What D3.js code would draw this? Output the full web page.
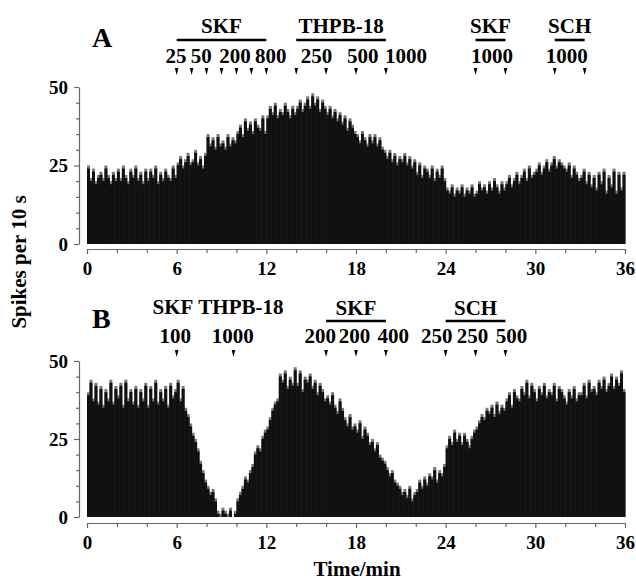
<!DOCTYPE html>
<html>
<head>
<meta charset="utf-8">
<script src="https://cdn.jsdelivr.net/npm/d3@7"></script>
<style>
  body { margin: 0; background: #fff; }
  text { font-family: "Liberation Serif", "Times New Roman", serif; font-weight: bold; fill: #000; }
</style>
</head>
<body>
<script>
// spikes per 10 s bin, 6 bins per minute, 36 min
var spikesA = [
  25,21,24,20,22,23, 21,25,22,20,23,21, 24,21,25,22,20,24, 22,25,21,23,20,24,
  21,24,22,25,20,23, 21,24,22,21,25,22, 26,28,25,27,29,26, 27,30,26,28,25,29,
  35,32,34,31,35,32, 33,31,35,32,34,33, 36,38,35,40,37,39, 36,40,38,37,41,36,
  41,44,42,45,41,43, 42,45,43,41,44,42, 44,46,43,45,47,44, 48,45,47,43,46,44,
  42,44,41,43,40,42, 39,41,37,40,38,36, 35,33,36,34,32,35, 33,35,32,34,31,30,
  28,30,27,29,26,28, 27,29,26,28,25,27, 23,26,22,25,24,22, 25,21,24,22,25,21,
  18,17,19,16,18,17, 19,16,18,17,19,16, 17,20,18,19,17,20, 18,21,19,17,20,18,
  20,22,19,21,23,20, 22,24,21,25,22,23, 24,26,23,25,27,24, 26,28,25,27,26,25,
  24,26,22,25,23,21, 22,24,20,23,19,22, 18,23,20,24,17,22, 19,24,17,23,18,23
];
var spikesB = [
  40,44,38,43,37,42, 36,41,38,44,37,42, 39,43,36,44,38,41, 37,42,36,41,38,43,
  36,42,38,44,37,41, 38,42,36,43,39,41, 44,38,42,35,33,30, 27,25,22,18,15,12,
  10,8,9,6,2,1, 3,2,1,3,0,2, 6,8,10,13,12,15, 17,21,23,22,26,28,
  29,32,35,37,38,46, 44,47,42,45,43,48, 43,47,41,45,44,46, 42,44,40,43,41,38,
  39,37,40,36,34,38, 35,32,30,33,29,30, 28,31,26,29,27,24, 25,22,24,20,19,18,
  16,14,15,12,11,10, 8,9,7,10,6,8, 9,12,10,13,11,14, 13,16,12,15,14,17,
  23,26,24,28,25,27, 24,27,25,23,26,28, 29,31,33,32,35,34, 36,33,37,34,36,35,
  38,40,36,41,39,38, 42,40,44,39,43,41, 38,42,40,43,39,41, 40,43,38,42,41,39,
  37,41,39,42,38,40, 40,43,39,44,41,42, 40,44,42,45,41,43, 46,42,45,43,47,41
];
var timeTicks = [0, 6, 12, 18, 24, 30, 36];
var spikeTicks = [0, 25, 50];

// drug bars: label, start, end (min)
var groupsA = [["SKF", 6, 12], ["THPB-18", 14, 20], ["SKF", 26, 28], ["SCH", 31.3, 33.3]];
var groupsB = [["SKF", 16, 20], ["SCH", 24, 28]];
var freeLabelsB = [["SKF", 5.75], ["THPB-18", 10.3]];
// doses: label, position (min)
var dosesA = [["25", 5.95], ["50", 7.65], ["200", 9.9], ["800", 12.3], ["250", 15.35], ["500", 18.45], ["1000", 21.35], ["1000", 27.1], ["1000", 32.1]];
var dosesB = [["100", 5.9], ["1000", 9.75], ["200", 15.6], ["200", 17.9], ["400", 20.5], ["250", 23.4], ["250", 25.8], ["500", 28.4]];
// arrowheads (min)
var arrowsA = [6, 7, 8, 9, 10, 11, 12, 14, 16, 18, 20, 26, 28, 31.3, 33.3];
var arrowsB = [6, 9.8, 16, 18, 20, 24, 26, 28];

var svg = d3.select("body").append("svg").attr("width", 636).attr("height", 583);

var x = d3.scaleLinear().domain([0, 36]).range([87, 625]);
var yA = d3.scaleLinear().domain([0, 50]).range([244, 87]);
var yB = d3.scaleLinear().domain([0, 50]).range([517, 361]);

function panel(data, y, xAxisY, letter, letterY) {
  var g = svg.append("g");
  // gray fringe at the top of each bin, then the dark body
  g.selectAll("rect.cap").data(data).enter().append("rect")
    .attr("class", "cap")
    .attr("x", function(d, i){ return x(i / 6); })
    .attr("width", function(d, i){ return x((i + 1) / 6) - x(i / 6) + 0.5; })
    .attr("y", function(d){ return y(d); })
    .attr("height", function(d){ return y(0) - y(d); })
    .attr("fill", "#777");
  g.selectAll("rect.bar").data(data).enter().append("rect")
    .attr("class", "bar")
    .attr("x", function(d, i){ return x(i / 6); })
    .attr("width", function(d, i){ return x((i + 1) / 6) - x(i / 6) + 0.5; })
    .attr("y", function(d){ return Math.min(y(0), y(d) + 3); })
    .attr("height", function(d){ return Math.max(0, y(0) - y(d) - 3); })
    .attr("fill", "#111");

  // y axis
  var ya = g.append("g").attr("transform", "translate(79,0)")
    .call(d3.axisLeft(y).tickValues(spikeTicks).tickSize(5).tickPadding(6).tickSizeOuter(0));
  g.append("g").attr("transform", "translate(79,0)")
    .call(d3.axisLeft(y).tickValues(d3.range(5, 50, 5).filter(function(v){ return v != 25; })).tickSize(3).tickFormat("").tickSizeOuter(0))
    .select(".domain").remove();
  ya.selectAll("text").attr("font-size", 19);

  // x axis
  var xa = g.append("g").attr("transform", "translate(0," + xAxisY + ")")
    .call(d3.axisBottom(x).tickValues(timeTicks).tickSize(5).tickPadding(8).tickSizeOuter(0));
  g.append("g").attr("transform", "translate(0," + xAxisY + ")")
    .call(d3.axisBottom(x).tickValues(d3.range(2, 36, 2).filter(function(v){ return v % 6 != 0; })).tickSize(4).tickFormat("").tickSizeOuter(0))
    .select(".domain").remove();
  xa.selectAll("text").attr("font-size", 19);

  g.selectAll(".domain, .tick line").attr("stroke", "#666").attr("stroke-width", 1.2);

  g.append("text").attr("x", 92).attr("y", letterY).attr("font-size", 28).text(letter);
}

panel(spikesA, yA, 249, "A", 47);
panel(spikesB, yB, 523, "B", 328);

function annotate(groups, doses, arrows, textY, lineY, doseY, arrowY) {
  var g = svg.append("g");
  g.selectAll("line.grp").data(groups).enter().append("line")
    .attr("x1", function(d){ return x(d[1]); })
    .attr("x2", function(d){ return x(d[2]); })
    .attr("y1", lineY).attr("y2", lineY)
    .attr("stroke", "#000").attr("stroke-width", 2.6);
  g.selectAll("text.grp").data(groups).enter().append("text")
    .attr("x", function(d){ return x((d[1] + d[2]) / 2); })
    .attr("y", textY)
    .attr("text-anchor", "middle").attr("font-size", 21)
    .text(function(d){ return d[0]; });
  g.selectAll("text.dose").data(doses).enter().append("text")
    .attr("x", function(d){ return x(d[1]); })
    .attr("y", doseY)
    .attr("text-anchor", "middle").attr("font-size", 21)
    .text(function(d){ return d[0]; });
  g.selectAll("path.arr").data(arrows).enter().append("path")
    .attr("d", function(d){ var px = x(d); return "M" + (px - 1.8) + "," + arrowY + "L" + (px + 1.8) + "," + arrowY + "L" + px + "," + (arrowY + 7) + "Z"; })
    .attr("fill", "#000");
}

annotate(groupsA, dosesA, arrowsA, 33, 40, 63, 68);
annotate(groupsB, dosesB, arrowsB, 315, 321, 343, 350);
svg.selectAll("text.free").data(freeLabelsB).enter().append("text")
  .attr("x", function(d){ return x(d[1]); })
  .attr("y", 314)
  .attr("text-anchor", "middle").attr("font-size", 21)
  .text(function(d){ return d[0]; });

svg.append("text")
  .attr("transform", "translate(26,262) rotate(-90)")
  .attr("text-anchor", "middle").attr("font-size", 21)
  .text("Spikes per 10 s");

svg.append("text")
  .attr("x", 357).attr("y", 576)
  .attr("text-anchor", "middle").attr("font-size", 21)
  .text("Time/min");
</script>
</body>
</html>
